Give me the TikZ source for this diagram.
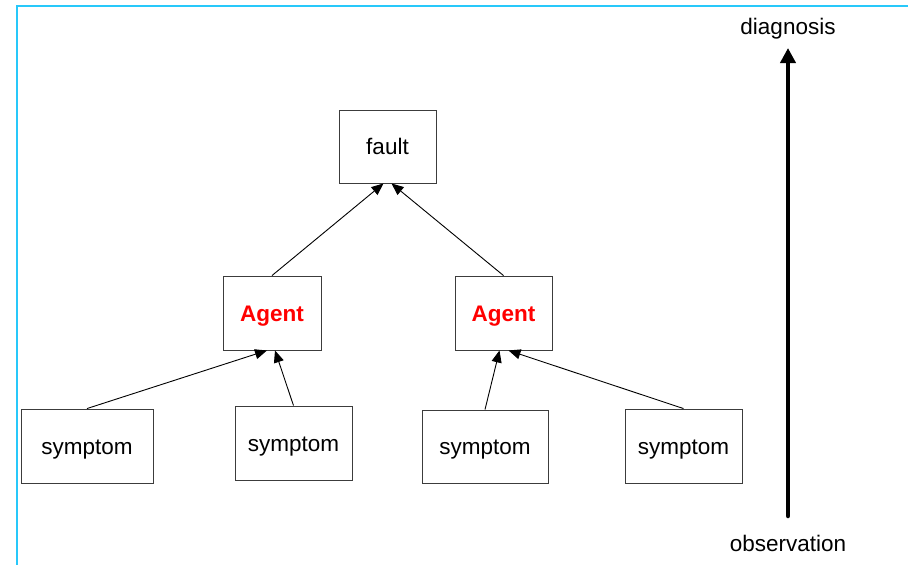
\documentclass[tikz,border=0pt]{standalone}
\usepackage{fontspec}
\setmainfont{Liberation Sans}
\usetikzlibrary{arrows.meta}
\definecolor{frameblue}{RGB}{40,200,250}
\definecolor{boxline}{RGB}{60,60,60}
\begin{document}
\begin{tikzpicture}[x=1pt,y=-1pt,
  box/.style={draw=boxline, line width=0.9pt, fill=white, inner sep=0pt,
    text height=16pt, text depth=0pt,
    font=\fontsize{22.5}{26}\selectfont},
  agentbox/.style={box, text=red, font=\fontsize{22.5}{26}\selectfont\bfseries},
  link/.style={line width=0.9pt, -{Triangle[length=12pt,width=10pt]}},
  scale arrow/.style={line width=4.5pt, line cap=round,
    -{Triangle[length=15pt,width=15pt]}},
  caption/.style={font=\fontsize{22.5}{26}\selectfont, inner sep=0pt}
]
\useasboundingbox (0,0) rectangle (908,565);
% frame edges along the top and the left
\draw[frameblue, line width=2.5pt] (908,6) -- (17,6) -- (17,566);

% tree of nodes
\node[box, minimum width=97pt, minimum height=73pt] (fault) at (387.5,146.5) {fault};
\node[agentbox, minimum width=98pt, minimum height=74pt] (agentL) at (272,313) {Agent};
\node[agentbox, minimum width=97pt, minimum height=74pt] (agentR) at (503.5,313) {Agent};
\node[box, minimum width=132pt, minimum height=74pt] (s1) at (87,446) {symptom};
\node[box, minimum width=117pt, minimum height=74pt] (s2) at (293.5,443) {symptom};
\node[box, minimum width=126pt, minimum height=73pt] (s3) at (485,446.5) {symptom};
\node[box, minimum width=117pt, minimum height=74pt] (s4) at (683.5,446) {symptom};

% connectors
\draw[link] (agentL.north) -- ([xshift=-4pt]fault.south);
\draw[link] (agentR.north) -- ([xshift=4pt]fault.south);
\draw[link] (s1.north) -- ([xshift=-5pt]agentL.south);
\draw[link] (s2.north) -- ([xshift=3pt]agentL.south);
\draw[link] (s3.north) -- ([xshift=-4pt]agentR.south);
\draw[link] (s4.north) -- ([xshift=5pt]agentR.south);

% observation to diagnosis scale
\node[caption] (diag) at (788,29) {diagnosis};
\node[caption] (obs) at (788,543) {observation};
\coordinate (scaleLow) at (788,516);
\coordinate (scaleHigh) at (788,48);
\draw[scale arrow] (scaleLow) -- (scaleHigh);
\end{tikzpicture}
\end{document}
